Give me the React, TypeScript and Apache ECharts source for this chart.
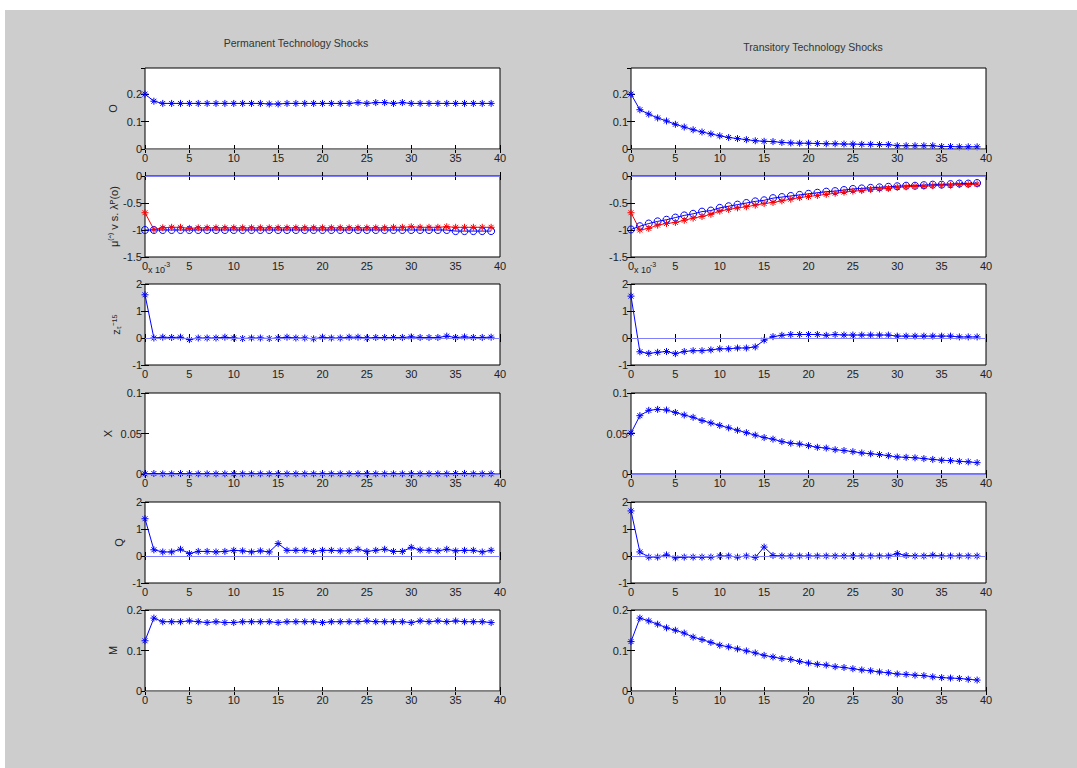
import React, { useEffect, useRef } from "react";
import * as echarts from "echarts";

// ---------- data ----------
const periods = [
  0, 1, 2, 3, 4, 5, 6, 7, 8, 9, 10, 11, 12, 13, 14, 15, 16, 17, 18, 19,
  20, 21, 22, 23, 24, 25, 26, 27, 28, 29, 30, 31, 32, 33, 34, 35, 36, 37, 38, 39,
];

const columnTitles = ["Permanent Technology Shocks", "Transitory Technology Shocks"];
const rowLabels = ["O", "μ⁽ˆ⁾ v s. λᴾ(o)", "zₜ⁻¹⁵", "X", "Q", "M"];
const yMins = [0, -1.5, -1, 0, -1, 0];
const yMaxs = [0.295, 0, 2, 0.1, 2, 0.2];
const yIntervals = [0.1, 0.5, 1, 0.05, 1, 0.1];
const xTickMin = 0;
const xTickMax = 40;
const xTickStep = 5;
const scaleNote = "x 10";
const scaleExp = "-3";

// Row 1: O
const oPerm = [
  0.2, 0.174, 0.166, 0.166, 0.166, 0.166, 0.166, 0.166, 0.166, 0.166,
  0.166, 0.166, 0.166, 0.166, 0.164, 0.164, 0.166, 0.166, 0.166, 0.166,
  0.166, 0.166, 0.166, 0.166, 0.169, 0.166, 0.169, 0.169, 0.166, 0.169,
  0.166, 0.166, 0.166, 0.166, 0.166, 0.166, 0.166, 0.166, 0.166, 0.166,
];
const oTrans = [
  0.2, 0.143, 0.127, 0.113, 0.102, 0.09, 0.08, 0.07, 0.062, 0.055,
  0.048, 0.042, 0.038, 0.034, 0.03, 0.028, 0.027, 0.024, 0.022, 0.021,
  0.021, 0.02, 0.019, 0.019, 0.018, 0.018, 0.017, 0.017, 0.016, 0.016,
  0.012, 0.012, 0.012, 0.012, 0.012, 0.009, 0.009, 0.008, 0.008, 0.008,
];

// Row 2: mu (red, stars) vs lambda (blue, circles)
const muPerm = [
  -0.68, -0.99, -0.96, -0.95, -0.95, -0.97, -0.96, -0.96, -0.96, -0.96,
  -0.96, -0.96, -0.96, -0.96, -0.96, -0.96, -0.96, -0.96, -0.96, -0.96,
  -0.96, -0.96, -0.96, -0.96, -0.96, -0.96, -0.96, -0.96, -0.95, -0.95,
  -0.94, -0.95, -0.95, -0.95, -0.94, -0.95, -0.95, -0.95, -0.95, -0.95,
];
const lambdaPerm = [
  -1.0, -1.0, -1.0, -1.0, -1.0, -1.0, -1.0, -1.0, -1.0, -1.0,
  -1.0, -1.0, -1.0, -1.0, -1.0, -1.0, -1.0, -1.0, -1.0, -1.0,
  -1.0, -1.0, -1.0, -1.0, -1.0, -1.0, -1.0, -1.0, -1.0, -1.0,
  -1.0, -1.0, -1.0, -1.0, -1.0, -1.02, -1.02, -1.02, -1.02, -1.02,
];
const muTrans = [
  -0.68, -1.0, -0.97, -0.91, -0.88, -0.86, -0.82, -0.78, -0.75, -0.71,
  -0.65, -0.62, -0.59, -0.57, -0.54, -0.51, -0.49, -0.46, -0.43, -0.4,
  -0.38, -0.36, -0.34, -0.32, -0.3, -0.28, -0.27, -0.25, -0.24, -0.23,
  -0.21, -0.2, -0.19, -0.19, -0.18, -0.17, -0.17, -0.16, -0.16, -0.15,
];
const lambdaTrans = [
  -0.99, -0.93, -0.88, -0.84, -0.81, -0.77, -0.73, -0.7, -0.66, -0.64,
  -0.59, -0.56, -0.53, -0.5, -0.47, -0.45, -0.41, -0.39, -0.37, -0.35,
  -0.33, -0.31, -0.29, -0.28, -0.26, -0.24, -0.23, -0.22, -0.21, -0.2,
  -0.19, -0.18, -0.18, -0.17, -0.16, -0.16, -0.15, -0.14, -0.14, -0.13,
];

// Row 3: z (x 10^-3)
const zPerm = [
  1.6, 0.0, 0.03, 0.02, 0.03, -0.06, 0.0, 0.0, 0.0, 0.03,
  0.0, -0.02, 0.0, 0.0, -0.02, 0.0, 0.03, 0.0, 0.0, -0.03,
  0.03, 0.0, 0.0, 0.03, 0.03, 0.0, 0.02, 0.02, 0.02, 0.02,
  0.04, 0.02, 0.02, 0.02, 0.07, 0.02, 0.04, 0.02, 0.02, 0.03,
];
const zTrans = [
  1.55, -0.51, -0.57, -0.53, -0.5, -0.58, -0.5, -0.47, -0.47, -0.44,
  -0.4, -0.4, -0.37, -0.37, -0.33, -0.08, 0.05, 0.1, 0.13, 0.13,
  0.13, 0.13, 0.1, 0.13, 0.11, 0.11, 0.11, 0.11, 0.11, 0.11,
  0.07, 0.07, 0.07, 0.07, 0.07, 0.07, 0.07, 0.04, 0.04, 0.04,
];

// Row 4: X
const xPerm = [
  0.0002, 0.0006, 0.0002, 0.0002, 0.0006, 0.0002, 0.0002, 0.0002, 0.0002, 0.0002,
  0.0002, 0.0002, 0.0002, 0.0002, 0.0002, 0.0002, 0.0002, 0.0002, 0.0002, 0.0002,
  0.0002, 0.0002, 0.0002, 0.0002, 0.0002, 0.0002, 0.0002, 0.0002, 0.0002, 0.0002,
  0.0002, 0.0002, 0.0002, 0.0002, 0.0002, 0.0005, 0.0007, 0.0002, 0.0002, 0.0002,
];
const xTrans = [
  0.0506, 0.072, 0.0786, 0.0798, 0.079, 0.076, 0.0728, 0.07, 0.066, 0.063,
  0.06, 0.057, 0.054, 0.051, 0.048, 0.045, 0.043, 0.04, 0.038, 0.037,
  0.035, 0.033, 0.032, 0.03, 0.029, 0.0276, 0.026, 0.025, 0.024, 0.0226,
  0.021, 0.0206, 0.02, 0.019, 0.018, 0.017, 0.0165, 0.0156, 0.015, 0.014,
];

// Row 5: Q
const qPerm = [
  1.38, 0.23, 0.15, 0.15, 0.25, 0.09, 0.17, 0.17, 0.15, 0.17,
  0.21, 0.19, 0.15, 0.19, 0.15, 0.46, 0.21, 0.21, 0.21, 0.17,
  0.21, 0.21, 0.19, 0.19, 0.25, 0.17, 0.21, 0.25, 0.17, 0.17,
  0.32, 0.22, 0.21, 0.19, 0.25, 0.19, 0.21, 0.21, 0.15, 0.21,
];
const qTrans = [
  1.67, 0.15, -0.04, -0.04, 0.04, -0.07, -0.04, -0.04, -0.04, -0.04,
  0.0, 0.0, -0.04, 0.0, -0.05, 0.33, 0.02, 0.0, 0.0, 0.0,
  0.0, 0.0, 0.0, 0.0, 0.0, 0.0, 0.0, 0.0, 0.0, 0.0,
  0.09, 0.02, 0.0, 0.0, 0.03, 0.0, 0.0, 0.0, 0.0, 0.0,
];

// Row 6: M
const mPerm = [
  0.124, 0.18, 0.171, 0.171, 0.171, 0.173, 0.171, 0.169, 0.171, 0.169,
  0.169, 0.171, 0.171, 0.171, 0.171, 0.169, 0.171, 0.171, 0.171, 0.171,
  0.169, 0.171, 0.171, 0.171, 0.171, 0.173, 0.171, 0.171, 0.171, 0.171,
  0.169, 0.173, 0.171, 0.173, 0.171, 0.173, 0.171, 0.171, 0.171, 0.169,
];
const mTrans = [
  0.122, 0.18, 0.173, 0.165, 0.156, 0.15, 0.143, 0.133, 0.127, 0.12,
  0.113, 0.109, 0.104, 0.099, 0.094, 0.088, 0.084, 0.08, 0.078, 0.073,
  0.069, 0.066, 0.064, 0.06, 0.058, 0.055, 0.052, 0.05, 0.047, 0.045,
  0.042, 0.041, 0.039, 0.038, 0.035, 0.033, 0.032, 0.031, 0.029, 0.027,
];

// ---------- style ----------
const BLUE = "#0000ff";
const RED = "#ff0000";
const ZERO = "#7f7fff";
const FONT = "'Liberation Sans', Arial, Helvetica, sans-serif";
const STAR = "path://M5,0L5,10M0,5L10,5M1.5,1.5L8.5,8.5M8.5,1.5L1.5,8.5";
const colLefts = [145, 631];
const rowTops = [68, 176, 284, 393, 502, 610];
const gridW = 355;
const gridH = 81;
const nameGaps = [27, 24, 24, 32, 21, 27];

type Line = { values: number[]; color: string; marker: "star" | "circle" };

const panelLines: Line[][][] = [
  [
    [{ values: oPerm, color: BLUE, marker: "star" }],
    [
      { values: lambdaPerm, color: BLUE, marker: "circle" },
      { values: muPerm, color: RED, marker: "star" },
    ],
    [{ values: zPerm, color: BLUE, marker: "star" }],
    [{ values: xPerm, color: BLUE, marker: "star" }],
    [{ values: qPerm, color: BLUE, marker: "star" }],
    [{ values: mPerm, color: BLUE, marker: "star" }],
  ],
  [
    [{ values: oTrans, color: BLUE, marker: "star" }],
    [
      { values: lambdaTrans, color: BLUE, marker: "circle" },
      { values: muTrans, color: RED, marker: "star" },
    ],
    [{ values: zTrans, color: BLUE, marker: "star" }],
    [{ values: xTrans, color: BLUE, marker: "star" }],
    [{ values: qTrans, color: BLUE, marker: "star" }],
    [{ values: mTrans, color: BLUE, marker: "star" }],
  ],
];

function buildOption() {
  const grid: any[] = [];
  const xAxis: any[] = [];
  const yAxis: any[] = [];
  const series: any[] = [];
  const graphic: any[] = [];

  const tickStyle = { inside: true, length: 4, lineStyle: { color: "#000", width: 1 } };
  const labelStyle = { color: "#222", fontSize: 11, fontFamily: FONT };

  let g = 0;
  for (let c = 0; c < 2; c++) {
    for (let r = 0; r < 6; r++) {
      grid.push({
        left: colLefts[c],
        top: rowTops[r],
        width: gridW,
        height: gridH,
        show: true,
        backgroundColor: "#ffffff",
        borderColor: "#000000",
        borderWidth: 1,
        containLabel: false,
      });
      const xBase = {
        type: "value",
        gridIndex: g,
        min: xTickMin,
        max: xTickMax,
        interval: xTickStep,
        axisLine: { show: false },
        splitLine: { show: false },
        axisTick: tickStyle,
      };
      xAxis.push({ ...xBase, position: "bottom", axisLabel: { ...labelStyle, margin: 3 } });
      xAxis.push({ ...xBase, position: "top", axisLabel: { show: false } });
      const yBase = {
        type: "value",
        gridIndex: g,
        min: yMins[r],
        max: yMaxs[r],
        interval: yIntervals[r],
        axisLine: { show: false },
        splitLine: { show: false },
        axisTick: tickStyle,
      };
      yAxis.push({
        ...yBase,
        position: "left",
        axisLabel: {
          ...labelStyle,
          margin: 3,
          showMinLabel: true,
          showMaxLabel: r !== 0,
        },
        name: c === 0 ? rowLabels[r] : "",
        nameLocation: "middle",
        nameRotate: 90,
        nameGap: nameGaps[r],
        nameTextStyle: { color: "#222", fontSize: 11, fontFamily: FONT },
      });
      yAxis.push({ ...yBase, position: "right", axisLabel: { show: false } });

      const xi = 2 * g;
      const yi = 2 * g;
      // zero reference line
      series.push({
        type: "line",
        xAxisIndex: xi,
        yAxisIndex: yi,
        data: [],
        silent: true,
        markLine: {
          silent: true,
          symbol: "none",
          label: { show: false },
          lineStyle: { color: ZERO, width: 1, type: "solid" },
          data: [{ yAxis: 0 }],
        },
      });
      for (const ln of panelLines[c][r]) {
        series.push({
          type: "line",
          xAxisIndex: xi,
          yAxisIndex: yi,
          data: periods.map((p, i) => [p, ln.values[i]]),
          lineStyle: { color: ln.color, width: 1 },
          symbol: ln.marker === "star" ? STAR : "circle",
          symbolSize: 7,
          showAllSymbol: true,
          itemStyle: { color: "transparent", borderColor: ln.color, borderWidth: 1 },
          emphasis: { disabled: true },
        });
      }
      // scale note for z panel
      if (r === 2) {
        graphic.push({
          type: "text",
          left: colLefts[c] + 3,
          top: rowTops[r] - 19,
          style: { text: scaleNote, fill: "#222", font: `9px ${FONT}` },
        });
        graphic.push({
          type: "text",
          left: colLefts[c] + 19,
          top: rowTops[r] - 23,
          style: { text: scaleExp, fill: "#222", font: `7px ${FONT}` },
        });
      }
      g++;
    }
  }

  graphic.push({
    type: "text",
    x: 296,
    y: 43,
    style: {
      text: columnTitles[0],
      fill: "#333",
      font: `10.5px ${FONT}`,
      textAlign: "center",
      textVerticalAlign: "middle",
    },
  });
  graphic.push({
    type: "text",
    x: 813,
    y: 47,
    style: {
      text: columnTitles[1],
      fill: "#333",
      font: `10.5px ${FONT}`,
      textAlign: "center",
      textVerticalAlign: "middle",
    },
  });

  return {
    animation: false,
    backgroundColor: "transparent",
    grid,
    xAxis,
    yAxis,
    series,
    graphic,
  };
}

export default function App() {
  const ref = useRef<HTMLDivElement>(null);
  useEffect(() => {
    if (!ref.current) return;
    const chart = echarts.init(ref.current, undefined, { renderer: "svg" });
    chart.setOption(buildOption() as any);
    return () => chart.dispose();
  }, []);
  return (
    <div
      style={{
        position: "fixed",
        left: 0,
        top: 0,
        width: 1077,
        height: 768,
        background: "#ffffff",
        overflow: "hidden",
      }}
    >
      <div
        style={{
          position: "absolute",
          left: 5,
          top: 10,
          right: 0,
          bottom: 0,
          background: "#cdcdcd",
        }}
      />
      <div
        ref={ref}
        style={{ position: "absolute", left: 0, top: 0, width: 1077, height: 768 }}
      />
    </div>
  );
}
